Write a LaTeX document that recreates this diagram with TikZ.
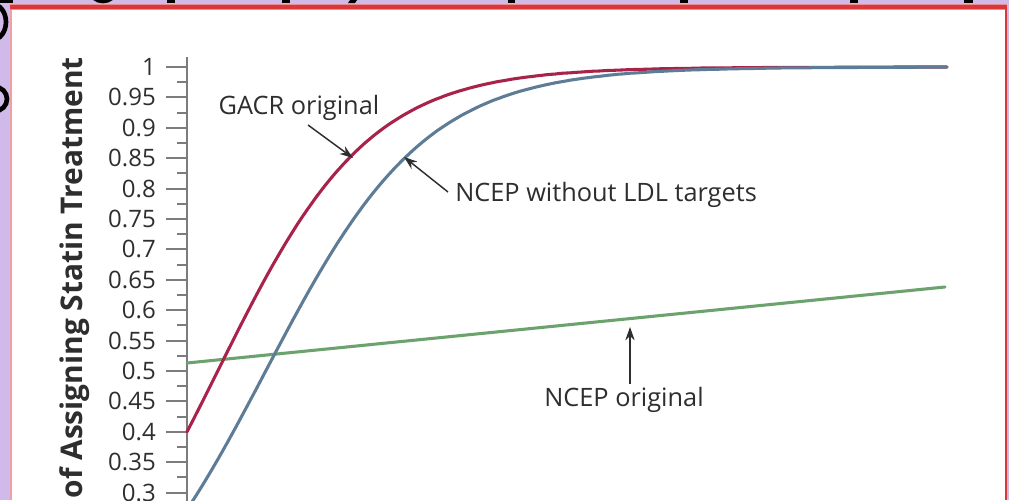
\documentclass[tikz,border=0pt]{standalone}
\usepackage{fontspec}
\setmainfont{Open Sans}
\usetikzlibrary{arrows.meta}
\definecolor{lav}{HTML}{CFBAE9}
\definecolor{framered}{HTML}{D8383C}
\definecolor{framelight}{HTML}{EC8A8C}
\definecolor{framepink}{HTML}{F0A0A2}
\definecolor{gacrred}{HTML}{A8234A}
\definecolor{ldlblue}{HTML}{5F7C96}
\definecolor{ncepgreen}{HTML}{6BA26E}
\definecolor{axisgray}{HTML}{7C7C7C}
\definecolor{ink}{HTML}{2E2E2E}
\begin{document}
\begin{tikzpicture}[x=0.75pt,y=-0.75pt,
  curveline/.style={line width=2.3pt,line cap=round},
  axisline/.style={axisgray,line width=1.8pt},
  tickline/.style={axisgray,line width=1.4pt},
  ticklabel/.style={anchor=east,inner sep=0pt,text=ink,font=\fontsize{18}{20}\selectfont},
  annot/.style={text=ink,font=\fontsize{19}{21}\selectfont,inner sep=3pt},
  pointer/.style={ink,line width=1.1pt,-{Stealth[length=10pt,width=7pt]}},
  heading/.style={black}]
\useasboundingbox (0,0) rectangle (1009,500);
\fill[lav] (0,0) rectangle (1009,500);

% lower edges of the heading letters above the panel
\fill[heading] (0,0) rectangle (13,3);
\fill[heading] (167,0) rectangle (175,3);
\fill[heading] (282,0) rectangle (290,3);
\fill[heading] (348,3) -- (355,3) -- (357,0) -- (350,0) -- cycle;
\fill[heading] (508,0) rectangle (515,3);
\fill[heading] (680,0) rectangle (688,3);
\fill[heading] (850,0) rectangle (858,3);
\fill[heading] (964,0) rectangle (973,3);
\begin{scope}
  \clip (80,0) rectangle (130,4);
  \draw[heading,line width=3.5pt] (103,-9) ellipse [x radius=12, y radius=10];
\end{scope}
\begin{scope}
  \clip (0,0) rectangle (11,120);
  \draw[heading,line width=3.5pt] (-8,22) ellipse [x radius=14, y radius=18];
  \draw[heading,line width=3.5pt] (-5,99) ellipse [x radius=12, y radius=12];
\end{scope}

% panel
\fill[white] (11,7) rectangle (1006,500);
\draw[framepink,line width=1.5pt] (11,7) -- (11,500);
\draw[framelight,line width=5pt] (10,7) -- (1007,7);
\draw[framered,line width=2.5pt] (10,7) -- (1007,7);
\draw[framered,line width=2.2pt] (1006,7) -- (1006,500);

\begin{scope}
\clip (12,10) rectangle (1004,500);

% vertical axis with ticks
\draw[axisline] (187,57) -- (187,505);
\foreach \t [count=\i from 0] in {1,0.95,0.9,0.85,0.8,0.75,0.7,0.65,0.6,0.55,0.5,0.45,0.4,0.35,0.3}{
  \draw[tickline] (166,67+30.4*\i) -- (187,67+30.4*\i);
  \draw[tickline] (177,82.2+30.4*\i) -- (187,82.2+30.4*\i);
  \node[ticklabel] (lbl\i) at (156,67+30.4*\i) {\t};
}
\node[rotate=90,anchor=base east,inner sep=0pt,text=ink,
      font=\bfseries\fontsize{22.4}{26}\selectfont] (ytitle) at (82,57)
  {of Assigning Statin Treatment};

% curves
\draw[curveline,ncepgreen] (187,363) -- (945,287);
\draw[curveline,gacrred] plot[domain=187:947,samples=160,smooth]
  (\x,{67+608*(1-1/(1+exp(-(\x-217.7)/75.7)))});
\draw[curveline,ldlblue] plot[domain=189:947,samples=160,smooth]
  (\x,{67+608*(1-1/(1+exp(-(\x-265.7)/80)))});

% annotations
\node[annot] (gacrlbl) at (299,108) {GACR original};
\coordinate (gacrfrom) at (308,125);
\coordinate (gacrtip) at (353,158);
\draw[pointer] (gacrfrom) -- (gacrtip);

\node[annot,anchor=west] (ldllbl) at (451,195) {NCEP without LDL targets};
\coordinate (ldlfrom) at (448,192);
\coordinate (ldltip) at (404,157);
\draw[pointer] (ldlfrom) -- (ldltip);

\node[annot] (nceplbl) at (624,400) {NCEP original};
\coordinate (ncepfrom) at (630,384);
\coordinate (nceptip) at (630,327);
\draw[pointer] (ncepfrom) -- (nceptip);
\end{scope}
\end{tikzpicture}
\end{document}
